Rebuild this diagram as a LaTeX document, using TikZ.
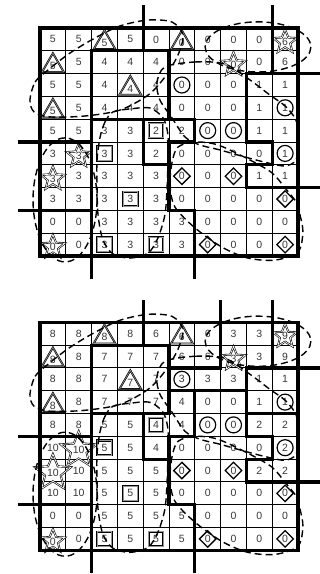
\documentclass[tikz,border=0pt]{standalone}
\usepackage{fontspec}
\setmainfont{Liberation Sans}
\usetikzlibrary{positioning,shapes.geometric}
\definecolor{digitgray}{RGB}{55,55,55}
\definecolor{symgray}{RGB}{150,150,150}

\tikzset{
  num/.style={text=digitgray, font=\fontsize{10.5}{12}\selectfont, inner sep=0pt},
  thinline/.style={line width=1pt},
  bordline/.style={line width=3.2pt, line cap=rect},
  cluster/.style={line width=1.4pt, dash pattern=on 7pt off 4pt},
  tri/.style={num, regular polygon, regular polygon sides=3, draw=black, line width=.65pt, double=symgray, double distance=.6pt, minimum size=25pt, yshift=-3.5pt},
  sta/.style={num, star, star points=5, star point ratio=2.3, draw=black, line width=.6pt, double=white, double distance=.7pt, minimum size=25pt, yshift=-2.5pt},
  cir/.style={num, circle, draw=black, line width=1.2pt, minimum size=16pt},
  squ/.style={num, rectangle, draw=black, line width=.65pt, double=symgray, double distance=.8pt, minimum size=14.5pt},
  dia/.style={num, diamond, draw=black, line width=1.3pt, minimum width=17pt, minimum height=17pt},
}

% contours des groupes (identiques dans les deux grilles)
\newcommand{\clustercurves}{%
  \draw[cluster] plot[smooth cycle] coordinates {(-0.39,3.16) (-0.19,2.37) (0.31,1.84) (1.16,1.10) (2.13,0.44) (3.10,-0.09) (4.19,-0.35) (5.12,-0.26) (5.54,0.31) (5.35,1.18) (4.84,2.15) (4.19,2.94) (3.10,3.60) (1.74,3.86) (0.39,3.90) (-0.23,3.68)};
  \draw[cluster] (8.45,0.83) ellipse [x radius=2.05, y radius=1.1];
  \draw[cluster] (0.97,7.54) ellipse [x radius=1.24, y radius=2.72];
  \draw[cluster] plot[smooth cycle] coordinates {(4.84,1.71) (6.01,1.49) (7.17,1.58) (8.14,2.28) (8.91,2.94) (9.50,3.42) (9.92,4.04) (10.04,4.91) (9.92,5.79) (9.50,6.05) (8.84,5.92) (7.95,5.66) (6.98,5.35) (6.20,5.13) (5.62,4.78) (5.12,3.95) (4.65,3.16) (4.53,2.41)};
  \draw[cluster] plot[smooth cycle] coordinates {(2.33,4.78) (2.52,4.12) (2.83,3.68) (3.49,3.55) (4.26,3.51) (4.77,3.95) (4.96,4.69) (4.96,5.79) (4.92,7.11) (4.84,8.20) (4.57,9.21) (4.19,9.87) (3.49,10.09) (2.83,9.91) (2.44,9.30) (2.25,8.20) (2.21,6.89) (2.21,5.79)};
  \draw[cluster] plot[smooth cycle] coordinates {(5.35,5.22) (5.12,5.88) (5.04,6.89) (5.23,7.85) (6.01,8.77) (7.05,9.61) (8.06,10.09) (9.11,10.18) (10.0,9.82) (10.19,8.95) (10.08,8.20) (9.96,7.68) (9.50,7.02) (9.0,6.36) (8.14,5.79) (6.90,5.13) (6.01,5.0)};
}

\begin{document}
\begin{tikzpicture}
  \useasboundingbox (0,0) rectangle (320pt,-574pt);

  % grille du haut
  \begin{scope}[shift={(40pt,-28pt)}, x=25.8pt, y=-22.8pt]
    \foreach \k in {1,...,9} {
      \draw[thinline] (\k,0) -- (\k,10);
      \draw[thinline] (0,\k) -- (10,\k);
    }
    \foreach \vals [count=\i from 0] in {{5,5,,5,0,,0,0,0,},{,5,4,4,4,0,0,,0,6},{5,5,4,,4,,0,0,1,1},{,5,4,4,4,0,0,0,1,},{5,5,3,3,,2,,,1,1},{3,,,3,2,0,0,0,0,},{,3,3,3,3,,0,,1,1},{3,3,3,,3,0,0,0,0,},{0,0,3,3,3,3,0,0,0,0},{,0,,3,,3,,0,0,}} {
      \foreach \v [count=\j from 0] in \vals
        \node[num] (a-\i-\j) at (\j+.5,\i+.5) {\v};
    }
    \foreach \i/\j/\s/\v in {0/2/tri/5, 0/5/tri/0, 1/0/tri/5, 2/3/tri/4, 3/0/tri/5,
        0/9/sta/6, 1/7/sta/0, 5/1/sta/3, 6/0/sta/3, 9/0/sta/0,
        2/5/cir/0, 3/9/cir/1, 4/6/cir/0, 4/7/cir/0, 5/9/cir/1,
        4/4/squ/2, 5/2/squ/3, 7/3/squ/3, 9/2/squ/3, 9/4/squ/3,
        6/5/dia/0, 6/7/dia/0, 7/9/dia/0, 9/6/dia/0, 9/9/dia/0}
      \node[\s] (sa-\i-\j) at (\j+.5,\i+.5) {\v};
    % frontieres des regions
    \foreach \x/\ya/\yb in {4/-.92/1, 9/-.92/2, 2/1/10.92, 5/1/4, 8/2/5, 4/4/6, 6/4/5, 5/5/8, 9/5/6, 8/6/7, 6/8/10.92}
      \draw[bordline] (\x,\ya) -- (\x,\yb);
    \foreach \y/\xa/\xb in {1/2/5, 2/8/10.78, 4/2/6, 5/-.78/2, 5/5/6, 5/8/9, 6/4/5, 6/8/9, 7/8/10.78, 8/-.78/2, 8/5/6}
      \draw[bordline] (\xa,\y) -- (\xb,\y);
    \draw[bordline] (0,0) rectangle (10,10);
    \clustercurves
  \end{scope}

  % grille du bas
  \begin{scope}[shift={(40pt,-322.3pt)}, x=25.8pt, y=-22.8pt]
    \foreach \k in {1,...,9} {
      \draw[thinline] (\k,0) -- (\k,10);
      \draw[thinline] (0,\k) -- (10,\k);
    }
    \foreach \vals [count=\i from 0] in {{8,8,,8,6,,6,3,3,},{,8,7,7,7,6,6,,3,9},{8,8,7,,7,,3,3,1,1},{,8,7,7,7,4,0,0,1,},{8,8,5,5,,4,,,2,2},{10,,,5,4,0,0,0,0,},{,10,5,5,5,,0,,2,2},{10,10,5,,5,0,0,0,0,},{0,0,5,5,5,5,0,0,0,0},{,0,,5,,5,,0,0,}} {
      \foreach \v [count=\j from 0] in \vals
        \node[num] (b-\i-\j) at (\j+.5,\i+.5) {\v};
    }
    \foreach \i/\j/\s/\v in {0/2/tri/8, 0/5/tri/6, 1/0/tri/8, 2/3/tri/7, 3/0/tri/8,
        0/9/sta/9, 1/7/sta/3, 5/1/sta/10, 6/0/sta/10, 9/0/sta/0,
        2/5/cir/3, 3/9/cir/1, 4/6/cir/0, 4/7/cir/0, 5/9/cir/2,
        4/4/squ/4, 5/2/squ/5, 7/3/squ/5, 9/2/squ/5, 9/4/squ/5,
        6/5/dia/0, 6/7/dia/0, 7/9/dia/0, 9/6/dia/0, 9/9/dia/0}
      \node[\s] (sb-\i-\j) at (\j+.5,\i+.5) {\v};
    % frontieres des regions
    \foreach \x/\ya/\yb in {4/-.92/1, 7/-.92/2, 9/-.92/2, 2/1/10.92, 5/1/4, 6/3/5, 8/2/5, 4/4/6, 5/5/8, 9/5/6, 8/6/7, 6/8/10.92}
      \draw[bordline] (\x,\ya) -- (\x,\yb);
    \foreach \y/\xa/\xb in {1/2/5, 2/5/7, 2/8/10.78, 3/5/8, 4/2/5, 4/8/10, 5/-.78/2, 5/5/6, 5/8/9, 6/4/5, 6/8/9, 7/8/10.78, 8/-.78/2, 8/5/6}
      \draw[bordline] (\xa,\y) -- (\xb,\y);
    \draw[bordline] (0,0) rectangle (10,10);
    \clustercurves
  \end{scope}
\end{tikzpicture}
\end{document}
